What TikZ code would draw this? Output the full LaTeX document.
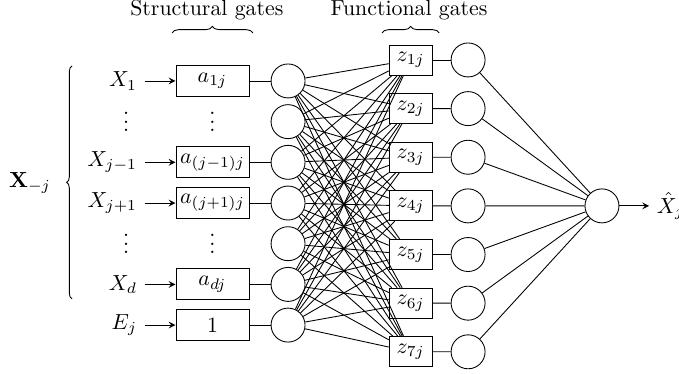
\documentclass[tikz,border=0pt]{standalone}
\usepackage{amsmath,amsfonts,amssymb}
\usepackage{tikz}
\usetikzlibrary{positioning}
\usetikzlibrary{calc}
\usetikzlibrary{decorations.pathreplacing}

\begin{document}
\begin{tikzpicture}[line width=0.4pt, >=stealth,
        sgate/.style={draw, rectangle, minimum width=1.175cm, minimum height=0.5cm, inner sep=1pt},
        fgate/.style={draw, rectangle, minimum width=0.69cm, minimum height=0.483cm, inner sep=1pt},
        unit/.style={draw, circle, minimum size=0.547cm, inner sep=0pt},
        topbrace/.style={decorate, decoration={brace, amplitude=3pt}}]

        \useasboundingbox (0,0) rectangle (10.93,6.02);

        % Inputs
        \node[anchor=east] (X1) at (2.33,4.717) {$X_1$};
        \node (XD1) at (2.03,4.162) {$\vdots$};
        \node[anchor=east] (X3) at (2.33,3.407) {$X_{j-1}$};
        \node[anchor=east] (X4) at (2.33,2.752) {$X_{j+1}$};
        \node (XD2) at (2.03,2.197) {$\vdots$};
        \node[anchor=east] (X6) at (2.33,1.442) {$X_d$};
        \node[anchor=east] (X7) at (2.33,0.787) {$E_j$};

        % Structural gates
        \node[sgate] (A1) at (3.42,4.717) {$a_{1j}$};
        \node (AD1) at (3.42,4.162) {$\vdots$};
        \node[sgate] (A3) at (3.42,3.407) {$a_{(j-1)j}$};
        \node[sgate] (A4) at (3.42,2.752) {$a_{(j+1)j}$};
        \node (AD2) at (3.42,2.197) {$\vdots$};
        \node[sgate] (A6) at (3.42,1.442) {$a_{dj}$};
        \node[sgate] (A7) at (3.42,0.787) {$1$};

        \draw[->] (X1) -- (A1);
        \draw[->] (X3) -- (A3);
        \draw[->] (X4) -- (A4);
        \draw[->] (X6) -- (A6);
        \draw[->] (X7) -- (A7);

        % First hidden layer
        \node[unit] (C1) at (4.637,4.717) {};
        \node[unit] (C2) at (4.637,4.062) {};
        \node[unit] (C3) at (4.637,3.407) {};
        \node[unit] (C4) at (4.637,2.752) {};
        \node[unit] (C5) at (4.637,2.097) {};
        \node[unit] (C6) at (4.637,1.442) {};
        \node[unit] (C7) at (4.637,0.787) {};

        \draw (A1) -- (C1);
        \draw (A3) -- (C3);
        \draw (A4) -- (C4);
        \draw (A6) -- (C6);
        \draw (A7) -- (C7);

        % Functional gates
        \node[fgate] (Z1) at (6.61,5.055) {$z_{1j}$};
        \node[fgate] (Z2) at (6.61,4.272) {$z_{2j}$};
        \node[fgate] (Z3) at (6.61,3.489) {$z_{3j}$};
        \node[fgate] (Z4) at (6.61,2.706) {$z_{4j}$};
        \node[fgate] (Z5) at (6.61,1.923) {$z_{5j}$};
        \node[fgate] (Z6) at (6.61,1.140) {$z_{6j}$};
        \node[fgate] (Z7) at (6.61,0.357) {$z_{7j}$};

        \foreach \i in {1,...,7}
            \foreach \k in {1,...,7}
                \draw (C\i) -- (Z\k);

        % Second hidden layer and output
        \node[unit] (Out) at (9.69,2.706) {};
        \foreach \k in {1,...,7} {
            \node[unit] (H\k) at (7.535,{5.055-0.783*(\k-1)}) {};
            \draw (Z\k) -- (H\k);
            \draw (H\k) -- (Out);
        }

        \node[anchor=west] (Xhat) at (10.45,2.706) {$\hat{X}_j$};
        \draw[->] (Out) -- (Xhat);

        % Braces and titles
        \node (XM) at (0.483,3.075) {$\mathbf{X}_{-j}$};
        \draw[decorate, decoration={brace, amplitude=2.5pt}] (1.16,1.208) -- (1.16,4.959);

        \node (SG) at (3.33,5.86) {Structural gates};
        \draw[topbrace] (2.77,5.49) -- (4.07,5.49);
        \node (FG) at (6.585,5.86) {Functional gates};
        \draw[topbrace] (6.15,5.49) -- (7.07,5.49);

\end{tikzpicture}
\end{document}
